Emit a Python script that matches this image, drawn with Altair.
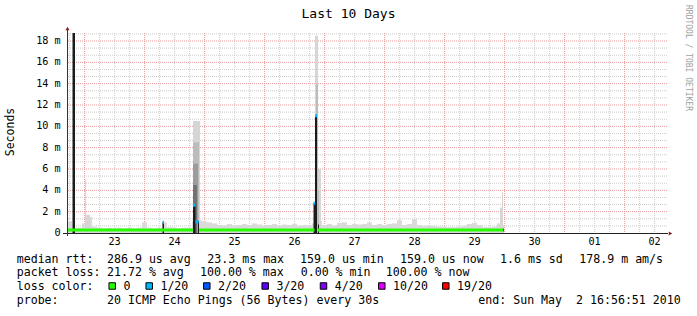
import altair as alt
import pandas as pd

# ------------------------------------------------------------------ time frame
START = pd.Timestamp("2010-04-22 16:56:51")
END = pd.Timestamp("2010-05-02 16:56:51")
SPAN_H = (END - START) / pd.Timedelta(hours=1)      # 240 h
Y_TOP_MS = 18.75                                     # top of value axis (ms)


def to_h(ts):
    return (pd.Timestamp(ts) - START) / pd.Timedelta(hours=1)


# ------------------------------------------------------------------ data
# smoke: typical max rtt (ms) in consecutive 2-hour bins from the graph start
BIN_H = 2.0
DATA_END_H = 174.8
smoke_max_ms = [
    1.1, 0.5, 0.5, 0.9, 1.5, 0.6, 0.5, 0.45, 0.5, 0.45,
    0.5, 0.45, 0.5, 0.45, 0.5, 1.0, 0.5, 0.45, 0.5, 1.0,
    0.55, 0.5, 0.45, 0.5, 0.5, 1.1, 1.2, 1.1, 1.0, 0.9,
    0.75, 0.7, 0.85, 0.7, 0.75, 0.85, 0.75, 0.9, 0.8, 0.7,
    0.75, 0.85, 0.7, 0.8, 0.75, 0.85, 0.7, 0.75, 0.7, 0.9,
    1.1, 0.75, 0.85, 0.7, 0.95, 1.0, 0.75, 0.85, 0.8, 0.85,
    1.0, 0.75, 0.85, 0.75, 0.85, 0.9, 1.2, 0.75, 0.85, 1.3,
    0.75, 0.65, 0.7, 0.65, 0.6, 0.6, 0.55, 0.55, 0.6, 0.65,
    0.85, 0.95, 0.75, 0.55, 0.55, 0.6, 0.9, 0.75,
]

# narrow smoke features: start hour, end hour, top (ms), density level
spike_h0 = [7.2, 7.6, 50.4, 50.4, 50.4, 50.4, 99.2, 100.0, 99.6, 100.0, 173.2, 174.0]
spike_h1 = [7.6, 9.2, 53.2, 52.8, 52.4, 52.0, 100.4, 101.6, 100.4, 100.8, 174.0, 174.4]
spike_ms = [5.0, 1.7, 10.5, 8.5, 6.5, 4.5, 18.5, 6.0, 14.0, 4.0, 2.4, 3.8]
spike_lvl = ["low", "low", "low", "mid", "high", "dense", "low", "low", "mid", "mid", "low", "low"]
LEVELS = ["low", "mid", "high", "dense"]
LEVEL_COLORS = ["#d6d6d6", "#bcbcbc", "#9c9c9c", "#737373"]

# dark cores of the bursts: start hour, end hour, top (ms)
core_h0 = [2.2, 38.2, 50.4, 52.4, 98.6, 99.2, 100.4]
core_h1 = [3.2, 38.8, 51.4, 52.8, 99.2, 100.0, 100.8]
core_ms = [18.75, 1.0, 2.6, 1.1, 2.8, 11.0, 0.8]

# median rtt segments with their packet loss class
med_h0 = [0.0, 38.2, 50.4, 51.4, 52.8, 98.6, 99.2, 100.4, 174.4]
med_h1 = [50.4, 38.8, 51.4, 52.6, 99.0, 99.2, 100.0, 174.4, 174.8]
med_ms = [0.28, 1.0, 2.6, 1.05, 0.28, 2.8, 11.0, 0.28, 0.28]
med_loss = ["0", "1/20", "1/20", "1/20", "0", "1/20", "1/20", "0", "2/20"]

LOSS_LABELS = ["0", "1/20", "2/20", "3/20", "4/20", "10/20", "19/20"]
LOSS_COLORS = ["#26ff00", "#00b8ff", "#0059ff", "#5e00ff", "#7e00ff", "#dd00ff", "#ff0000"]

Y_TICKS = [0, 2, 4, 6, 8, 10, 12, 14, 16, 18]
Y_TICK_TEXT = ["0\u00a0\u00a0", "2 m", "4 m", "6 m", "8 m", "10 m", "12 m", "14 m", "16 m", "18 m"]

TITLE = "Last 10 Days"
V_LABEL = "Seconds"
WATERMARK = "RRDTOOL / TOBI OETIKER"

row1 = ["median rtt:", "286.9 us avg", "23.3 ms max", "159.0 us min", "159.0 us now",
        "1.6 ms sd", "178.9 m am/s"]
row2 = ["packet loss:", "21.72 % avg", "100.00 % max", "0.00 % min", "100.00 % now"]
row3 = ["loss color:"]
row4 = ["probe:", "20 ICMP Echo Pings (56 Bytes) every 30s",
        "end: Sun May\u00a0\u00a02 16:56:51 2010"]

# ------------------------------------------------------------------ layout
PAD_L, PAD_T = 67, 33
W, H = 600, 200
row1_x = [16.7, 107, 207.3, 300, 400, 500, 579.3]
row2_x = [16.7, 107, 200, 300.7, 385.7]
row3_x = [16.7]
row4_x = [16.7, 107, 478.3]
row_base = [262.5, 276, 290, 303.5]
swatch_x = [108.7, 145.7, 203.3, 261.7, 320, 378.3, 442.3]

MONO = "DejaVu Sans Mono"

# ------------------------------------------------------------------ tables
one = pd.DataFrame({"k": [0]})
smoke = pd.DataFrame({"h0": [i * BIN_H for i in range(len(smoke_max_ms))], "top": smoke_max_ms})
smoke["h1"] = (smoke["h0"] + BIN_H).clip(upper=DATA_END_H)
spikes = pd.DataFrame({"h0": spike_h0, "h1": spike_h1, "top": spike_ms, "lvl": spike_lvl})
cores = pd.DataFrame({"h0": core_h0, "h1": core_h1, "top": core_ms})
median = pd.DataFrame({"h0": med_h0, "h1": med_h1, "ms": med_ms, "loss": med_loss})

midnights = pd.date_range("2010-04-23", "2010-05-02", freq="D")
six_h = pd.date_range("2010-04-22 18:00", "2010-05-02 12:00", freq="6h")
major_v = pd.DataFrame({"h": [to_h(t) for t in midnights]})
minor_v = pd.DataFrame({"h": [to_h(t) for t in six_h if t.hour != 0]})
major_h = pd.DataFrame({"v": [v for v in Y_TICKS if v > 0]})
minor_h = pd.DataFrame({"v": [j * 2 / 3 for j in range(1, 29) if j % 3 != 0]})
day_lab = pd.DataFrame({"h": [to_h(t + pd.Timedelta(hours=12)) for t in midnights],
                        "txt": [t.strftime("%d") for t in midnights]})
ytick = pd.DataFrame({"v": Y_TICKS, "txt": Y_TICK_TEXT})

foot = []
for xs_, items, yb in [(row1_x, row1, row_base[0]), (row2_x, row2, row_base[1]),
                       (row3_x, row3, row_base[2]), (row4_x, row4, row_base[3])]:
    for x, t in zip(xs_, items):
        foot.append({"px": x - PAD_L, "py": yb - PAD_T, "txt": t})
for x, lab in zip(swatch_x, LOSS_LABELS):
    foot.append({"px": x + 14.7 - PAD_L, "py": row_base[2] - PAD_T, "txt": lab})
foot = pd.DataFrame(foot)
swatches = pd.DataFrame({"px": [x + 3.5 - PAD_L for x in swatch_x],
                         "py": [286 - PAD_T] * len(swatch_x), "loss": LOSS_LABELS})

# ------------------------------------------------------------------ scales
xs = alt.Scale(domain=[0, SPAN_H], nice=False, zero=False)
ys = alt.Scale(domain=[0, Y_TOP_MS], nice=False, zero=False)
loss_scale = alt.Scale(domain=LOSS_LABELS, range=LOSS_COLORS)


def X(f):
    return alt.X(f, type="quantitative", scale=xs, axis=None)


def Y(f):
    return alt.Y(f, type="quantitative", scale=ys, axis=None)


grid_minor_v = alt.Chart(minor_v).mark_rule(color="#cccccc", strokeDash=[1, 1], strokeWidth=1).encode(x=X("h"))
grid_major_v = alt.Chart(major_v).mark_rule(color="#e39a9a", strokeDash=[1, 1], strokeWidth=1).encode(x=X("h"))
grid_minor_h = alt.Chart(minor_h).mark_rule(color="#cccccc", strokeDash=[1, 1], strokeWidth=1).encode(y=Y("v"))
grid_major_h = alt.Chart(major_h).mark_rule(color="#e39a9a", strokeDash=[1, 1], strokeWidth=1).encode(y=Y("v"))

smoke_l = alt.Chart(smoke).mark_rect(color="#dadada").encode(
    x=X("h0"), x2="h1", y=Y("top"), y2=alt.datum(0))
spike_l = alt.Chart(spikes).mark_rect().encode(
    x=X("h0"), x2="h1", y=Y("top"), y2=alt.datum(0),
    fill=alt.Fill("lvl:N", scale=alt.Scale(domain=LEVELS, range=LEVEL_COLORS), legend=None))
core_l = alt.Chart(cores).mark_rect(color="#1c1c1c").encode(
    x=X("h0"), x2="h1", y=Y("top"), y2=alt.datum(0))
med_l = alt.Chart(median).mark_rule(strokeWidth=3, strokeCap="butt").encode(
    x=X("h0"), x2="h1", y=Y("ms"),
    color=alt.Color("loss:N", scale=loss_scale, legend=None))

x_axis = alt.Chart(one).mark_rule(color="#222222", strokeWidth=1).encode(
    x=alt.value(-4), x2=alt.value(W + 1), y=alt.value(H + 0.5))
y_axis = alt.Chart(one).mark_rule(color="#333333", strokeWidth=1).encode(
    x=alt.value(0.5), y=alt.value(-4), y2=alt.value(H + 3))
arrow_up = alt.Chart(one).mark_point(shape="triangle-up", filled=True, size=16,
                                     color="#8c1c1c", opacity=1).encode(
    x=alt.value(0.5), y=alt.value(-4.5))
arrow_right = alt.Chart(one).mark_point(shape="triangle-right", filled=True, size=16,
                                        color="#8c1c1c", opacity=1).encode(
    x=alt.value(W + 3.5), y=alt.value(H + 0.5))

ylab = alt.Chart(ytick).mark_text(align="right", baseline="middle", font=MONO,
                                  fontSize=10.2, color="#000000").encode(
    y=Y("v"), x=alt.value(-6.3), text="txt:N")
xlab = alt.Chart(day_lab).mark_text(align="center", baseline="middle", font=MONO,
                                    fontSize=10.2, color="#000000").encode(
    x=X("h"), y=alt.value(209), text="txt:N")

title_l = alt.Chart(one).mark_text(text=TITLE, align="center", baseline="middle", font=MONO,
                                   fontSize=13, color="#000000").encode(
    x=alt.value(348.5 - PAD_L), y=alt.value(14 - PAD_T))
vlab_l = alt.Chart(one).mark_text(text=V_LABEL, align="center", baseline="middle", font=MONO,
                                  fontSize=11.5, angle=270, color="#000000").encode(
    x=alt.value(10.5 - PAD_L), y=alt.value(132 - PAD_T))
wm_l = alt.Chart(one).mark_text(text=WATERMARK, align="left", baseline="middle", font=MONO,
                                fontSize=8, angle=90, color="#a0a0a0").encode(
    x=alt.value(688 - PAD_L), y=alt.value(5 - PAD_T))

foot_l = alt.Chart(foot).mark_text(align="left", baseline="alphabetic", font=MONO,
                                   fontSize=11.6, color="#000000").encode(
    x=alt.X("px:Q", scale=None, axis=None), y=alt.Y("py:Q", scale=None, axis=None), text="txt:N")
sw_l = alt.Chart(swatches).mark_point(shape="square", filled=True, size=42, stroke="#000000",
                                      strokeWidth=1, opacity=1).encode(
    x=alt.X("px:Q", scale=None, axis=None), y=alt.Y("py:Q", scale=None, axis=None),
    color=alt.Color("loss:N", scale=loss_scale, legend=None))

chart = alt.layer(
    grid_minor_v, grid_minor_h, grid_major_v, grid_major_h,
    smoke_l, spike_l, core_l, med_l,
    x_axis, y_axis, arrow_up, arrow_right,
    ylab, xlab, title_l, vlab_l, wm_l, foot_l, sw_l,
).properties(
    width=W, height=H,
    padding={"left": PAD_L, "top": PAD_T, "right": 697 - PAD_L - W, "bottom": 316 - PAD_T - H},
    autosize=alt.AutoSizeParams(type="none"),
    background="#ffffff",
).configure_view(stroke=None)

chart.save("out.html", embed_options={"renderer": "svg", "actions": False})
